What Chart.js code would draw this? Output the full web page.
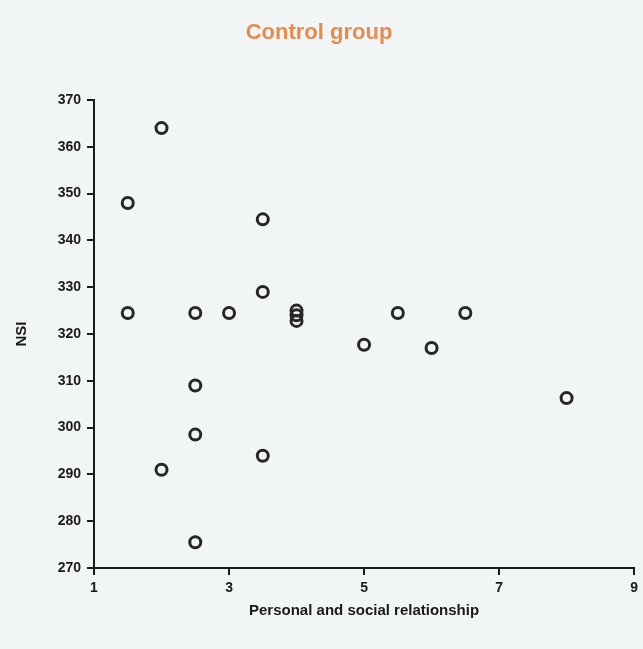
<!DOCTYPE html>
<html>
<head>
<meta charset="utf-8">
<title>Control group</title>
<script src="https://cdn.jsdelivr.net/npm/chart.js@4.4.1/dist/chart.umd.min.js"></script>
<style>
    html, body { margin: 0; padding: 0; background: #f2f5f5; }
    #chart-wrap { width: 643px; height: 649px; }
</style>
</head>
<body>
<div id="chart-wrap"><canvas id="scatter-chart"></canvas></div>
<script>
// Data
const relationScores = [1.5, 1.5, 2, 2, 2.5, 2.5, 2.5, 2.5, 3, 3.5, 3.5, 3.5, 4, 4, 4, 5, 5.5, 6, 6.5, 8];
const nsiScores = [348, 324.5, 364, 291, 324.5, 309, 298.5, 275.5, 324.5, 344.5, 329, 294, 325, 324, 322.8, 317.7, 324.5, 317, 324.5, 306.3];
const xTicks = [1, 3, 5, 7, 9];
const yTicks = [270, 280, 290, 300, 310, 320, 330, 340, 350, 360, 370];

const points = relationScores.map((x, i) => ({ x: x, y: nsiScores[i] }));

// Paint the page colour behind the chart
const backgroundPlugin = {
    id: 'background',
    beforeDraw(chart) {
        const ctx = chart.ctx;
        ctx.save();
        ctx.fillStyle = '#f2f5f5';
        ctx.fillRect(0, 0, chart.width, chart.height);
        ctx.restore();
    }
};

const fontFamily = 'Liberation Sans, Arial, sans-serif';
const tickFont = { family: fontFamily, size: 14, weight: 'bold' };
const titleFont = { family: fontFamily, size: 15, weight: 'bold' };

new Chart(document.getElementById('scatter-chart'), {
    type: 'scatter',
    data: {
        datasets: [{
            label: 'Control group',
            data: points,
            pointStyle: 'circle',
            pointRadius: 5.5,
            pointHoverRadius: 5.5,
            borderWidth: 3,
            borderColor: '#262626',
            backgroundColor: 'rgba(0,0,0,0)'
        }]
    },
    options: {
        responsive: true,
        maintainAspectRatio: false,
        animation: false,
        layout: { padding: { left: 0, right: 5, top: 0, bottom: 0 } },
        plugins: {
            legend: { display: false },
            tooltip: { enabled: false },
            title: {
                display: true,
                text: 'Control group',
                color: '#e98a4c',
                font: { family: fontFamily, size: 22, weight: 'bold' },
                padding: { top: 20, bottom: 53.6 }
            }
        },
        scales: {
            x: {
                type: 'linear',
                min: 1,
                max: 9,
                afterFit: s => { s.height = 81; },
                afterBuildTicks: s => { s.ticks = xTicks.map(v => ({ value: v })); },
                border: { color: '#1a1a1a', width: 2 },
                grid: { drawOnChartArea: false, drawTicks: true, tickLength: 7, tickColor: '#1a1a1a', lineWidth: 2 },
                ticks: { color: '#1a1a1a', font: tickFont, padding: 5 },
                title: {
                    display: true,
                    text: 'Personal and social relationship',
                    color: '#1a1a1a',
                    font: titleFont,
                    padding: { top: 0, bottom: 29 }
                }
            },
            y: {
                type: 'linear',
                min: 270,
                max: 370,
                afterFit: s => { s.width = 94; },
                afterBuildTicks: s => { s.ticks = yTicks.map(v => ({ value: v })); },
                border: { color: '#1a1a1a', width: 2 },
                grid: { drawOnChartArea: false, drawTicks: true, tickLength: 7, tickColor: '#1a1a1a', lineWidth: 2 },
                ticks: { color: '#1a1a1a', font: tickFont, padding: 6 },
                title: {
                    display: true,
                    text: 'NSI',
                    color: '#1a1a1a',
                    font: titleFont,
                    padding: { top: 13, bottom: 0 }
                }
            }
        }
    },
    plugins: [backgroundPlugin]
});
</script>
</body>
</html>
